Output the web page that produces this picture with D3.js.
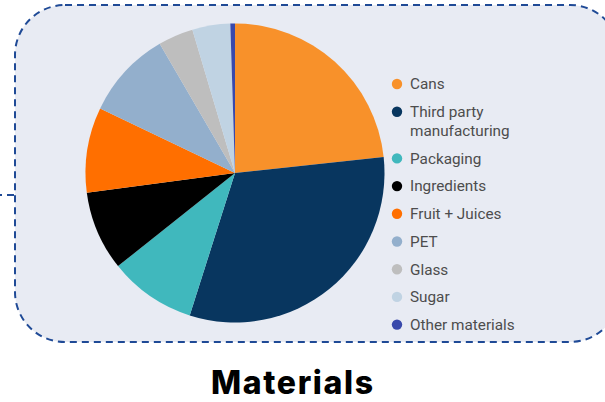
<!DOCTYPE html>
<html>
<head>
<meta charset="utf-8">
<script src="https://cdn.jsdelivr.net/npm/d3@7"></script>
<style>
  html, body { margin: 0; padding: 0; background: #ffffff; }
  svg { display: block; }
</style>
</head>
<body>
<svg id="chart" width="605" height="402"></svg>
<script>
// Material spend shares (percent)
const categories = ["Cans", "Third party manufacturing", "Packaging", "Ingredients", "Fruit + Juices", "PET", "Glass", "Sugar", "Other materials"];
const legendLines = [["Cans"], ["Third party", "manufacturing"], ["Packaging"], ["Ingredients"], ["Fruit + Juices"], ["PET"], ["Glass"], ["Sugar"], ["Other materials"]];
const values = [23.3, 31.6, 9.4, 8.6, 9.2, 9.5, 3.8, 4.1, 0.5];
const colors = ["#f8912a", "#08365f", "#40b8bd", "#000000", "#ff6f00", "#93afcc", "#bebebe", "#c0d3e3", "#3949ab"];
const title = "Materials";

const svg = d3.select("#chart");

// Dashed rounded panel behind the pie and legend
svg.append("rect")
  .attr("x", 15).attr("y", 5)
  .attr("width", 605).attr("height", 337)
  .attr("rx", 50).attr("ry", 50)
  .attr("fill", "#e8ebf3")
  .attr("stroke", "#1f4a96")
  .attr("stroke-width", 2)
  .attr("stroke-dasharray", "7,5");

// Short connector leaving the panel on the left
svg.append("line")
  .attr("x1", 0).attr("x2", 14)
  .attr("y1", 195).attr("y2", 195)
  .attr("stroke", "#1f4a96")
  .attr("stroke-width", 2)
  .attr("stroke-dasharray", "2,5,8");

// Pie
const cx = 235, cy = 173, r = 149.5;
const pie = d3.pie().sort(null).value(d => d)(values);
const arc = d3.arc().innerRadius(0).outerRadius(r);

svg.append("g")
  .attr("transform", `translate(${cx},${cy})`)
  .selectAll("path")
  .data(pie)
  .join("path")
  .attr("d", arc)
  .attr("fill", (d, i) => colors[i]);

// Legend rows
const rowTops = [];
let y = 84;
legendLines.forEach(lines => {
  rowTops.push(y);
  y += 27.7 + (lines.length - 1) * 19;
});

const lg = svg.append("g")
  .attr("font-family", "Roboto, sans-serif")
  .attr("font-size", 15.3)
  .attr("fill", "#4d4d4d");
legendLines.forEach((lines, i) => {
  const ry = rowTops[i];
  lg.append("circle")
    .attr("cx", 397).attr("cy", ry)
    .attr("r", 5.2)
    .attr("fill", colors[i]);
  const t = lg.append("text").attr("x", 410).attr("y", ry + 5.3);
  lines.forEach((ln, j) => {
    t.append("tspan").attr("x", 410).attr("dy", j === 0 ? 0 : 19).text(ln);
  });
});

// Title
svg.append("text")
  .attr("x", 292).attr("y", 394)
  .attr("text-anchor", "middle")
  .attr("font-family", "Inter, sans-serif")
  .attr("font-weight", 800)
  .attr("font-size", 32)
  .attr("fill", "#000")
  .attr("textLength", 162)
  .attr("lengthAdjust", "spacing")
  .text(title);
</script>
</body>
</html>
